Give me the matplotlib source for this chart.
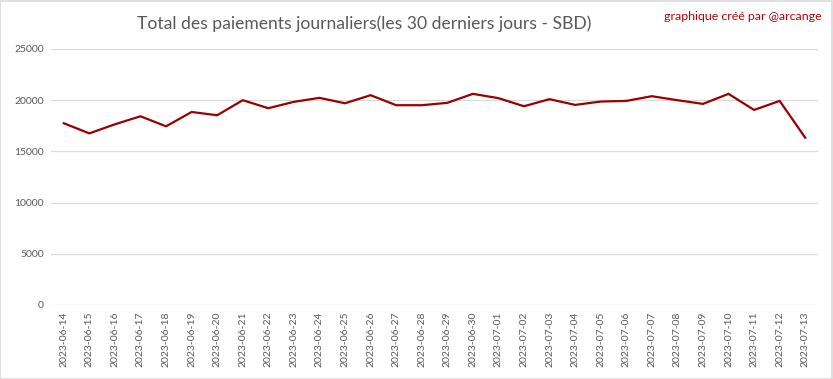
import matplotlib
matplotlib.use("Agg")
import matplotlib.pyplot as plt
from matplotlib.patches import Rectangle

dates = ["2023-06-14", "2023-06-15", "2023-06-16", "2023-06-17", "2023-06-18",
         "2023-06-19", "2023-06-20", "2023-06-21", "2023-06-22", "2023-06-23",
         "2023-06-24", "2023-06-25", "2023-06-26", "2023-06-27", "2023-06-28",
         "2023-06-29", "2023-06-30", "2023-07-01", "2023-07-02", "2023-07-03",
         "2023-07-04", "2023-07-05", "2023-07-06", "2023-07-07", "2023-07-08",
         "2023-07-09", "2023-07-10", "2023-07-11", "2023-07-12", "2023-07-13"]
payouts = [17750, 16760, 17650, 18430, 17450, 18850, 18530, 20000, 19220, 19840,
           20230, 19700, 20490, 19510, 19510, 19740, 20620, 20200, 19410, 20100,
           19540, 19870, 19930, 20390, 20000, 19640, 20620, 19050, 19930, 16340]
yticks = [0, 5000, 10000, 15000, 20000, 25000]

plt.rcParams['font.family'] = ['Lato', 'DejaVu Sans']

fig = plt.figure(figsize=(8.33, 3.79), dpi=100)
ax = fig.add_axes([51/833, 1 - 305/379, (818-51)/833, (305-49)/379])

x = list(range(len(dates)))
ax.plot(x, payouts, color="#9B0000", lw=1.6, solid_joinstyle="miter")
ax.set_xlim(-0.5, len(dates) - 0.5)
ax.set_ylim(0, 25000)
ax.set_yticks(yticks)
ax.set_yticklabels([str(v) for v in yticks], color="#595959", fontsize=7.5)
ax.set_xticks(x)
ax.set_xticklabels(dates, rotation=90, color="#595959", fontsize=7.5)
ax.tick_params(length=0, pad=5)
ax.yaxis.grid(True, color="#D9D9D9", lw=0.9)
ax.set_axisbelow(True)
for s in ax.spines.values():
    s.set_visible(False)

fig.text(364/833, 1 - 24/379, "Total des paiements journaliers(les 30 derniers jours - SBD)",
         ha="center", va="center", fontsize=12.6, color="#595959")
fig.text(822/833, 1 - 16/379, "graphique créé par @arcange", ha="right", va="center",
         fontsize=8.9, color="#C00000")

fig.patches.append(Rectangle((0.0006, 0.001), 0.9985, 0.997, transform=fig.transFigure,
                             fill=False, edgecolor="#D9D9D9", lw=1.2))
fig.savefig("out.png", dpi=100)
